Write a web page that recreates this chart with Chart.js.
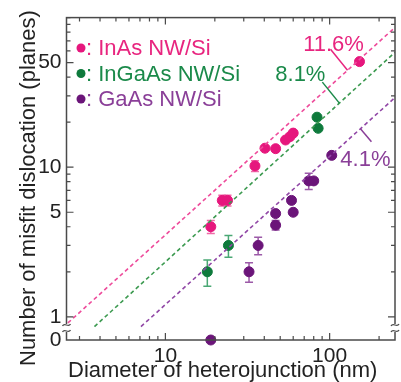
<!DOCTYPE html>
<html>
<head>
<meta charset="utf-8">
<script src="https://cdn.jsdelivr.net/npm/chart.js@4"></script>
<style>
  body { margin: 0; background: #fff; }
  #wrap { width: 401px; height: 382px; }
</style>
</head>
<body>
<div id="wrap"><canvas id="chart" width="401" height="382"></canvas></div>
<script>
// axis ranges / ticks
const X_MIN = 2.5, X_MAX = 250;
const Y_MIN = 0.7, Y_MAX = 100;      // 0 sits on the broken bottom edge
const xTicks = [3, 4, 5, 6, 7, 8, 9, 10, 20, 30, 40, 50, 60, 70, 80, 90, 100, 200];
const xLabeled = [10, 100];
const yTicks = [1, 2, 3, 4, 5, 6, 7, 8, 9, 10, 20, 30, 40, 50, 60, 70, 80, 90, 100];
const yLabeled = [1, 5, 10, 50];

// InAs NW/Si
const inasD = [18.9, 22.2, 23.9, 35.1, 40.4, 46.9, 53.9, 57.3, 60, 152];
const inasN = [4.0, 6.0, 6.0, 10.2, 13.4, 13.3, 15.2, 16.0, 16.9, 50.8];
const inasErr = [0.4, 0.5, 0.5, 0.85, 0, 0, 0, 0, 0, 0];
// InGaAs NW/Si
const ingaasD = [18.0, 24.2, 83.8, 85.1];
const ingaasN = [2.0, 3.0, 21.6, 18.2];
const ingaasErr = [0.4, 0.5, 0, 0];
// GaAs NW/Si
const gaasD = [18.9, 32.3, 36.7, 46.9, 46.9, 58.6, 60, 74.6, 80, 103];
const gaasN = [0, 2.0, 3.0, 4.1, 4.9, 6.0, 5.0, 8.1, 8.1, 12.0];
const gaasErr = [0, 0.3, 0.4, 0.3, 0.2, 0.2, 0.2, 1.0, 0, 0];

// fit lines (end points)
const inasFitD = [2.55, 250], inasFitN = [0.91, 86];
const ingaasFitD = [3.7, 250], ingaasFitN = [0.86, 58.6];
const gaasFitD = [7.1, 250], gaasFitN = [0.86, 29.2];

const FONT = "'Liberation Sans', Arial, sans-serif";
const AXIS = "#4a4a4a";

const series = [
  { name: "InAs NW/Si", d: inasD, n: inasN, err: inasErr, fd: inasFitD, fn: inasFitN,
    dot: "#e6177d", line: "#ee4b9b", text: "#e8257f", bar: "#f06aa8", pct: "11.6%", anchor: 128.5 },
  { name: "InGaAs NW/Si", d: ingaasD, n: ingaasN, err: ingaasErr, fd: ingaasFitD, fn: ingaasFitN,
    dot: "#0e7a3c", line: "#3c9a50", text: "#1b8a4a", bar: "#4aa874", pct: "8.1%", anchor: 114.6 },
  { name: "GaAs NW/Si", d: gaasD, n: gaasN, err: gaasErr, fd: gaasFitD, fn: gaasFitN,
    dot: "#6b1579", line: "#9147a6", text: "#8a3f98", bar: "#9c5aa8", pct: "4.1%", anchor: 154 }
];

const toPts = (xs, ys) => xs.map((x, i) => ({ x: x, y: ys[i] === 0 ? Y_MIN : ys[i] }));

const datasets = [];
series.forEach(s => {
  datasets.push({
    type: "line", data: toPts(s.fd, s.fn), borderColor: s.line, borderWidth: 1.6,
    borderDash: [4, 3], pointRadius: 0, fill: false
  });
});
series.forEach(s => {
  datasets.push({
    type: "scatter", data: toPts(s.d, s.n), backgroundColor: s.dot, borderColor: s.dot,
    pointRadius: 5, pointHoverRadius: 5, clip: false
  });
});

// value on a fit line (straight in log-log)
function fitAt(s, x) {
  const lx = Math.log10(x), x0 = Math.log10(s.fd[0]), x1 = Math.log10(s.fd[1]);
  const y0 = Math.log10(s.fn[0]), y1 = Math.log10(s.fn[1]);
  return Math.pow(10, y0 + (y1 - y0) * (lx - x0) / (x1 - x0));
}

const errorBars = {
  id: "errorBars",
  beforeDatasetsDraw(chart) {
    const { ctx, scales: { x, y } } = chart;
    ctx.save();
    ctx.lineWidth = 1.5;
    series.forEach(s => {
      ctx.strokeStyle = s.bar;
      s.d.forEach((d, i) => {
        if (!s.err[i]) return;
        const px = x.getPixelForValue(d);
        const t = y.getPixelForValue(s.n[i] + s.err[i]);
        const b = y.getPixelForValue(s.n[i] - s.err[i]);
        ctx.beginPath();
        ctx.moveTo(px, t); ctx.lineTo(px, b);
        ctx.moveTo(px - 4, t); ctx.lineTo(px + 4, t);
        ctx.moveTo(px - 4, b); ctx.lineTo(px + 4, b);
        ctx.stroke();
      });
    });
    ctx.restore();
  }
};

function breakMark(ctx, cx, cy) {
  ctx.fillStyle = "#fff";
  ctx.fillRect(cx - 2, cy - 4, 4, 8);
  ctx.strokeStyle = AXIS;
  ctx.lineWidth = 1.3;
  [-3, 3].forEach(o => {
    ctx.beginPath();
    ctx.moveTo(cx - 4, cy + o + 1);
    ctx.bezierCurveTo(cx - 2, cy + o - 3, cx + 2, cy + o + 3, cx + 4, cy + o - 1);
    ctx.stroke();
  });
}

const frame = {
  id: "frame",
  afterDraw(chart) {
    const { ctx, chartArea: a, scales: { x, y } } = chart;
    ctx.save();
    ctx.strokeStyle = AXIS;
    ctx.lineWidth = 1.5;
    ctx.strokeRect(a.left, a.top, a.right - a.left, a.bottom - a.top);
    ctx.lineWidth = 1.2;
    ctx.beginPath();
    xTicks.forEach(v => {
      const px = x.getPixelForValue(v);
      const len = xLabeled.includes(v) ? 7 : 4;
      ctx.moveTo(px, a.bottom); ctx.lineTo(px, a.bottom - len);
      ctx.moveTo(px, a.top); ctx.lineTo(px, a.top + len);
    });
    yTicks.forEach(v => {
      const py = y.getPixelForValue(v);
      const len = yLabeled.includes(v) ? 7 : 4;
      ctx.moveTo(a.left, py); ctx.lineTo(a.left + len, py);
      ctx.moveTo(a.right, py); ctx.lineTo(a.right - len, py);
    });
    ctx.stroke();
    breakMark(ctx, a.left, 328);
    breakMark(ctx, a.right, 328);

    // legend
    ctx.font = "22px " + FONT;
    ctx.textBaseline = "alphabetic";
    ctx.textAlign = "left";
    series.forEach((s, i) => {
      const by = 55 + i * 25.5;
      ctx.fillStyle = s.dot;
      ctx.beginPath(); ctx.arc(81, by - 7, 4.5, 0, Math.PI * 2); ctx.fill();
      ctx.fillStyle = s.text;
      ctx.fillText(": " + s.name, 86, by);
    });

    // percentage labels with leaders
    const offs = [
      { lead: [-17, -21], txt: [-14, -19], align: "center" },
      { lead: [-17, -21], txt: [-39, -22], align: "center" },
      { lead: [11, 13], txt: [5, 37], align: "center" }
    ];
    series.forEach((s, i) => {
      const ax = x.getPixelForValue(s.anchor), ay = y.getPixelForValue(fitAt(s, s.anchor));
      const o = offs[i];
      ctx.strokeStyle = s.text;
      ctx.lineWidth = 1.5;
      ctx.beginPath(); ctx.moveTo(ax, ay); ctx.lineTo(ax + o.lead[0], ay + o.lead[1]); ctx.stroke();
      ctx.fillStyle = s.text;
      ctx.textAlign = o.align;
      ctx.fillText(s.pct, ax + o.txt[0], ay + o.txt[1]);
    });

    // axis titles
    ctx.fillStyle = "#222";
    ctx.textAlign = "left";
    ctx.fillText("Diameter of heterojunction (nm)", 68, 377);
    ctx.save();
    ctx.translate(35, 366);
    ctx.rotate(-Math.PI / 2);
    ctx.fillText("Number of misfit dislocation (planes)", 0, 0);
    ctx.restore();
    ctx.restore();
  }
};

new Chart(document.getElementById("chart"), {
  type: "scatter",
  data: { datasets: datasets },
  options: {
    responsive: false,
    animation: false,
    layout: { padding: { top: 10, right: 4, left: 0, bottom: 0 } },
    plugins: { legend: { display: false }, tooltip: { enabled: false } },
    scales: {
      x: {
        type: "logarithmic", min: X_MIN, max: X_MAX,
        afterFit: s => { s.height = 42; },
        afterBuildTicks: s => { s.ticks = xTicks.map(v => ({ value: v })); },
        grid: { display: false, drawTicks: false }, border: { display: false },
        ticks: {
          autoSkip: false, maxRotation: 0, padding: 4, color: "#222",
          font: { family: FONT, size: 21 },
          callback: v => xLabeled.includes(v) ? String(v) : ""
        }
      },
      y: {
        type: "logarithmic", min: Y_MIN, max: Y_MAX,
        afterFit: s => { s.width = 66.5; },
        afterBuildTicks: s => { s.ticks = [Y_MIN].concat(yTicks).map(v => ({ value: v })); },
        grid: { display: false, drawTicks: false }, border: { display: false },
        ticks: {
          autoSkip: false, padding: 5, color: "#222",
          font: { family: FONT, size: 21 },
          callback: v => v === Y_MIN ? "0" : (yLabeled.includes(v) ? String(v) : "")
        }
      }
    }
  },
  plugins: [errorBars, frame]
});
</script>
</body>
</html>
